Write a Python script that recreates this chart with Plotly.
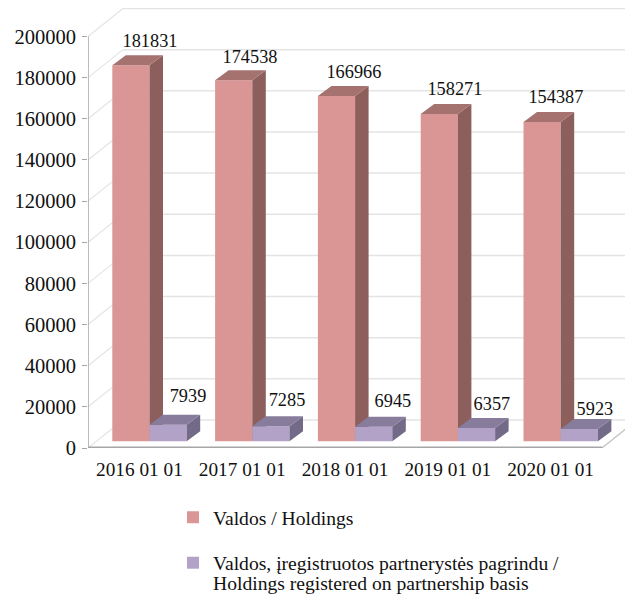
import plotly.graph_objects as go

# ---- data ----
categories = ["2016 01 01", "2017 01 01", "2018 01 01", "2019 01 01", "2020 01 01"]
holdings = [181831, 174538, 166966, 158271, 154387]
partnership = [7939, 7285, 6945, 6357, 5923]
y_ticks = [0, 20000, 40000, 60000, 80000, 100000, 120000, 140000, 160000, 180000, 200000]
name_holdings = "Valdos / Holdings"
name_partnership = "Valdos, įregistruotos partnerystės pagrindu /"
name_partnership_line2 = "Holdings registered on partnership basis"

# ---- style / projection ----
FONT = "Liberation Serif"
W, H = 625, 595
ML, MT, MB = 88, 8, 147
PLOT_W, PLOT_H = W - ML, H - MT - MB
PX_X = 102.8                # pixels per category
PX_Y = 41.15 / 20000        # pixels per unit on the axis plane
PX_B = 41.36 / 20000        # pixels per unit on the plane of the bars (closer to the eye)
px = lambda p: p / PX_X     # pixel length -> x units
py = lambda p: p / PX_Y     # pixel length -> y units (axis plane)
pb = lambda p: p / PX_B     # pixel length -> y units (bar plane)
XMIN = -0.5
XMAX = XMIN + PLOT_W / PX_X
YMAX = py(PLOT_H)
YMAX_B = pb(PLOT_H)
WALL_DX, WALL_DY = px(35), py(28)
BAR_DX, BAR_DY = px(13.5), pb(10)
FLOOR = pb(6.8)
BAR_W = px(37.2)
OFF1 = px(24.3) + XMIN
OFF2 = OFF1 + BAR_W

GRID = "#e4e4e4"
AXIS = "#a6a6a6"
TEXT = "#111111"
C1 = dict(front="#D99694", side="#8C5F5D", top="#A67270")
C2 = dict(front="#B3A2C7", side="#736A88", top="#877C9B")

# manual label placement (pixels from the bar's left edge / above the value's top edge)
LAB1_DX = [37.7, 34.9, 36, 34.2, 32.4]
LAB1_DY = [23, 22, 22, 23, 23]
LAB2_DX = [75.7, 71.9, 75, 71.2, 71.4]
LAB2_DY = [27, 25, 24, 23, 19]

AX2 = dict(xaxis="x2", yaxis="y2")
AX3 = dict(xaxis="x3", yaxis="y3")


def lines(xs0, xs1, ys0, ys1):
    x, y = [], []
    for a, b, c, d in zip(xs0, xs1, ys0, ys1):
        x += [a, b, None]
        y += [c, d, None]
    return x, y


def line_trace(x, y, color, width=1.3, **kw):
    return go.Scatter(x=x, y=y, mode="lines", line=dict(color=color, width=width),
                      hoverinfo="skip", showlegend=False, **kw)


def face(x, y, color, **kw):
    return go.Scatter(x=x, y=y, mode="lines", fill="toself", fillcolor=color,
                      line=dict(width=0, color=color), hoverinfo="skip", showlegend=False, **kw)


def series_faces(values, left, colors, **kw):
    out = []
    for i, v in enumerate(values):
        x0, x1 = i + left, i + left + BAR_W
        top = FLOOR + v
        out.append(face([x1, x1 + BAR_DX, x1 + BAR_DX, x1, x1],
                        [FLOOR, FLOOR + BAR_DY, top + BAR_DY, top, FLOOR], colors["side"], **kw))
        out.append(face([x0, x0 + BAR_DX, x1 + BAR_DX, x1, x0],
                        [top, top + BAR_DY, top + BAR_DY, top, top], colors["top"], **kw))
    return out


idx = list(range(len(categories)))
fig = go.Figure()

# walls and floor (lowest axes pair)
wx0 = XMIN + WALL_DX
n = len(y_ticks)
x, y = lines([wx0] * n, [XMAX] * n, [v + WALL_DY for v in y_ticks], [v + WALL_DY for v in y_ticks])
fig.add_trace(line_trace(x, y, GRID, 1.5))
x, y = lines([XMIN] * n, [wx0] * n, y_ticks, [v + WALL_DY for v in y_ticks])
fig.add_trace(line_trace(x, y, GRID, 1.2))
xe = XMIN + len(categories)
fig.add_trace(line_trace([xe, xe + WALL_DX], [0, WALL_DY], "#bdbdbd", 1.2))

# axis lines
fig.add_trace(line_trace([XMIN, XMIN], [0, y_ticks[-1]], AXIS, 1.5))
fig.add_trace(line_trace([XMIN, xe], [py(0.5), py(0.5)], AXIS, 1.8))

# series 1 above the walls
fig.add_trace(go.Bar(x=idx, y=holdings, base=FLOOR, width=BAR_W, offset=OFF1,
                     marker=dict(color=C1["front"], line=dict(width=0)),
                     name=name_holdings, legendgroup="a", hoverinfo="skip", **AX2))
for t in series_faces(holdings, OFF1, C1, **AX2):
    fig.add_trace(t)

# series 2 in front of series 1
fig.add_trace(go.Bar(x=idx, y=partnership, base=FLOOR, width=BAR_W, offset=OFF2,
                     marker=dict(color=C2["front"], line=dict(width=0)),
                     name=name_partnership, legendgroup="b", hoverinfo="skip", **AX3))
for t in series_faces(partnership, OFF2, C2, **AX3):
    fig.add_trace(t)

# data labels
for vals, dxs, dys in ((holdings, LAB1_DX, LAB1_DY), (partnership, LAB2_DX, LAB2_DY)):
    fig.add_trace(go.Scatter(
        x=[i + OFF1 + px(d) for i, d in zip(idx, dxs)],
        y=[FLOOR + v + pb(d) for v, d in zip(vals, dys)],
        text=[str(v) for v in vals], mode="text", textposition="middle center",
        textfont=dict(family=FONT, size=18.3, color=TEXT),
        hoverinfo="skip", showlegend=False, **AX3))

fig.update_layout(
    width=W, height=H, autosize=False,
    margin=dict(l=ML, r=0, t=MT, b=MB, pad=0, autoexpand=False),
    paper_bgcolor="white", plot_bgcolor="white",
    barmode="overlay", hovermode=False,
    font=dict(family=FONT, size=18, color=TEXT),
    legend=dict(x=(173 - ML) / PLOT_W, xanchor="left", yanchor="top", y=-50 / PLOT_H,
                traceorder="grouped", tracegroupgap=17, itemclick=False, itemdoubleclick=False,
                bgcolor="rgba(0,0,0,0)", font=dict(family=FONT, size=19.6, color=TEXT)),
    annotations=[dict(text=name_partnership_line2, xref="paper", yref="paper",
                      x=(212 - ML) / PLOT_W, y=(448 - 583.5) / PLOT_H,
                      xanchor="left", yanchor="middle", showarrow=False, align="left",
                      borderpad=0, font=dict(family=FONT, size=19.6, color=TEXT))],
    xaxis=dict(range=[XMIN, XMAX], tickmode="array", tickvals=idx, ticktext=categories,
               showgrid=False, zeroline=False, showline=False, ticks="outside", ticklen=4,
               tickcolor="rgba(0,0,0,0)", tickfont=dict(family=FONT, size=19.3, color=TEXT)),
    yaxis=dict(range=[0, YMAX], tickmode="array", tickvals=y_ticks, tickformat="d",
               showgrid=False, zeroline=False, showline=False, ticks="outside", ticklen=5,
               tickcolor=AXIS, tickwidth=1.3, ticklabelstandoff=2,
               tickfont=dict(family=FONT, size=20.5, color=TEXT)),
    xaxis2=dict(range=[XMIN, XMAX], overlaying="x", visible=False),
    yaxis2=dict(range=[0, YMAX_B], overlaying="y", visible=False),
    xaxis3=dict(range=[XMIN, XMAX], overlaying="x", visible=False),
    yaxis3=dict(range=[0, YMAX_B], overlaying="y", visible=False),
)

fig.write_html("out.html", config={"displayModeBar": False},
               post_script="document.body.style.margin='0';")
